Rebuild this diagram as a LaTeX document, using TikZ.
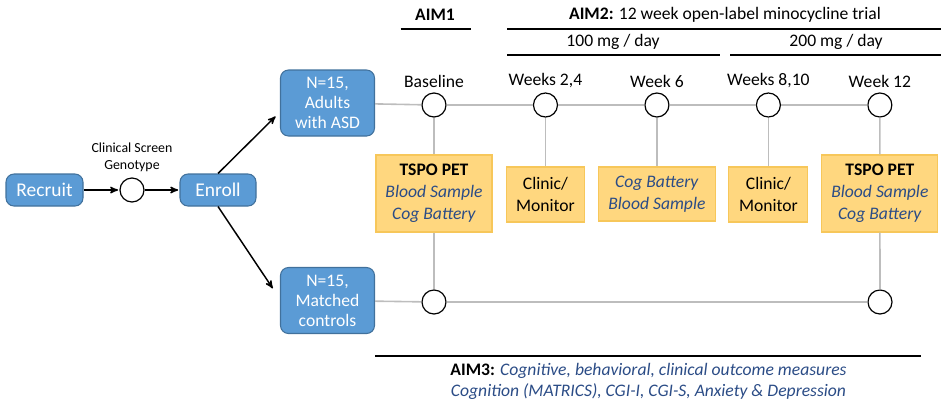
\documentclass[tikz,border=0pt]{standalone}
\usepackage{fontspec}
\setmainfont{Carlito}
\usepackage{tikz}
\usetikzlibrary{arrows,positioning,shapes}

\definecolor{boxblue}{HTML}{5B9BD5}
\definecolor{boxedge}{HTML}{41719C}
\definecolor{gold}{HTML}{FFD77F}
\definecolor{goldedge}{HTML}{F7C75A}
\definecolor{txtblue}{HTML}{2B4C86}
\definecolor{tline}{HTML}{BDBDBD}

\newcommand{\meas}[1]{\textcolor{txtblue}{\textit{#1}}}

\tikzset{
  group/.style={rectangle,rounded corners=6pt,draw=boxedge,fill=boxblue,text=white,
                align=center,line width=0.8pt,inner sep=1pt},
  visit/.style={circle,draw,fill=white,line width=0.9pt,minimum size=18pt,inner sep=0pt},
  task/.style={rectangle,draw=goldedge,fill=gold,align=center,line width=0.8pt,inner sep=1pt,
               font=\fontsize{13.2}{16.5}\selectfont},
  tl/.style={draw=tline,line width=1.2pt},
  rule/.style={draw,line width=1pt}
}

\begin{document}
\begin{tikzpicture}[x=0.75pt,y=-0.75pt,->,>=stealth',shorten >=1pt,node distance=83.6pt,
                    every label/.style={font=\fontsize{13.2}{15}\selectfont,inner sep=3.6pt}]

  \useasboundingbox (0,0) rectangle (941,415);

  % enrolment
  \node[group,minimum width=57.75pt,minimum height=24pt,font=\fontsize{14.6}{17}\selectfont]
        (recruit) at (44.5,190) {Recruit};
  \node[visit] (screen) at (132,190) {};
  \node[above=1pt of screen,align=center,font=\fontsize{10.4}{12.75}\selectfont] (screentxt)
        {Clinical Screen\\Genotype};
  \node[group,minimum width=57pt,minimum height=24pt,font=\fontsize{14.6}{17}\selectfont]
        (enroll) at (218,190) {Enroll};
  \node[group,minimum width=70.5pt,minimum height=49.5pt,font=\fontsize{13.2}{15}\selectfont]
        (asd) at (327.5,103) {N=15,\\Adults\\with ASD};
  \node[group,minimum width=70.5pt,minimum height=49.5pt,font=\fontsize{13.2}{15}\selectfont]
        (ctrl) at (327.5,300.5) {N=15,\\Matched\\controls};
  \coordinate (asdin) at (276.5,115.5);
  \coordinate (ctrlin) at (273.5,289.5);

  \draw[line width=1.1pt] (recruit) -- (screen);
  \draw[line width=1.1pt] (screen) -- (enroll);
  \draw[line width=1.1pt] (enroll.north) -- (asdin);
  \draw[line width=1.1pt] (enroll.south) -- (ctrlin);

  % time points
  \node[visit,label={above:Baseline}]      (b0)              at (434,105) {};
  \node[visit,label={above:{Weeks 2,4}}]   (w2)  [right of=b0] {};
  \node[visit,label={above:{Week 6}}]      (w6)  [right of=w2] {};
  \node[visit,label={above:{Weeks 8,10}}]  (w8)  [right of=w6] {};
  \node[visit,label={above:{Week 12}}]     (w12) [right of=w8] {};
  \node[visit] (b1)  at (434,302) {};
  \node[visit] (w12b) at (880,302) {};

  % measures
  \node[task,minimum width=87pt,minimum height=57.75pt] (t0) at (b0 |- 0,193.5)
        {\textbf{TSPO PET}\\\meas{Blood Sample}\\\meas{Cog Battery}};
  \node[task,minimum width=58.5pt,minimum height=41.25pt] (t1) at (w2 |- 0,194.5)
        {Clinic/\\Monitor};
  \node[task,minimum width=87.75pt,minimum height=40.5pt] (t2) at (w6 |- 0,194)
        {\meas{Cog Battery}\\\meas{Blood Sample}};
  \node[task,minimum width=59.25pt,minimum height=41.25pt] (t3) at (w8 |- 0,194.5)
        {Clinic/\\Monitor};
  \node[task,minimum width=87pt,minimum height=57.75pt] (t4) at (w12 |- 0,193.5)
        {\textbf{TSPO PET}\\\meas{Blood Sample}\\\meas{Cog Battery}};

  \begin{scope}[-,shorten >=0pt]
    \path[tl] (asd) -- (b0) -- (w2) -- (w6) -- (w8) -- (w12);
    \path[tl] (ctrl) -- (b1) -- (w12b);
    \path[tl] (b0) -- (t0) -- (b1);
    \path[tl] (w12) -- (t4) -- (w12b);
    \path[tl] (w2) -- (t1);
    \path[tl] (w6) -- (t2);
    \path[tl] (w8) -- (t3);
  \end{scope}

  % aims
  \node[font=\fontsize{13.2}{15}\selectfont] (aim1) at (435,15) {\textbf{AIM1}};
  \node[font=\fontsize{13.2}{15}\selectfont] (aim2) at (725,15)
        {\textbf{AIM2:} 12 week open-label minocycline trial};
  \node[font=\fontsize{13.2}{15}\selectfont] (dose1) at (613,42) {100 mg / day};
  \node[font=\fontsize{13.2}{15}\selectfont] (dose2) at (836,42) {200 mg / day};
  \node[align=center,font=\fontsize{13.2}{15.75}\selectfont] (aim3) at (648.5,381.5)
        {\textbf{AIM3:} \meas{Cognitive, behavioral, clinical outcome measures}\\
         \meas{Cognition (MATRICS), CGI-I, CGI-S, Anxiety \& Depression}};

  \begin{scope}[-,shorten >=0pt]
    \draw[rule] (400.5,29) -- (471,29);
    \draw[rule] (507,29) -- (941,29);
    \draw[rule] (507,55) -- (720,55);
    \draw[rule] (730,55) -- (941,55);
    \draw[rule,line width=1.5pt] (375,356) -- (921,356);
  \end{scope}
\end{tikzpicture}
\end{document}
